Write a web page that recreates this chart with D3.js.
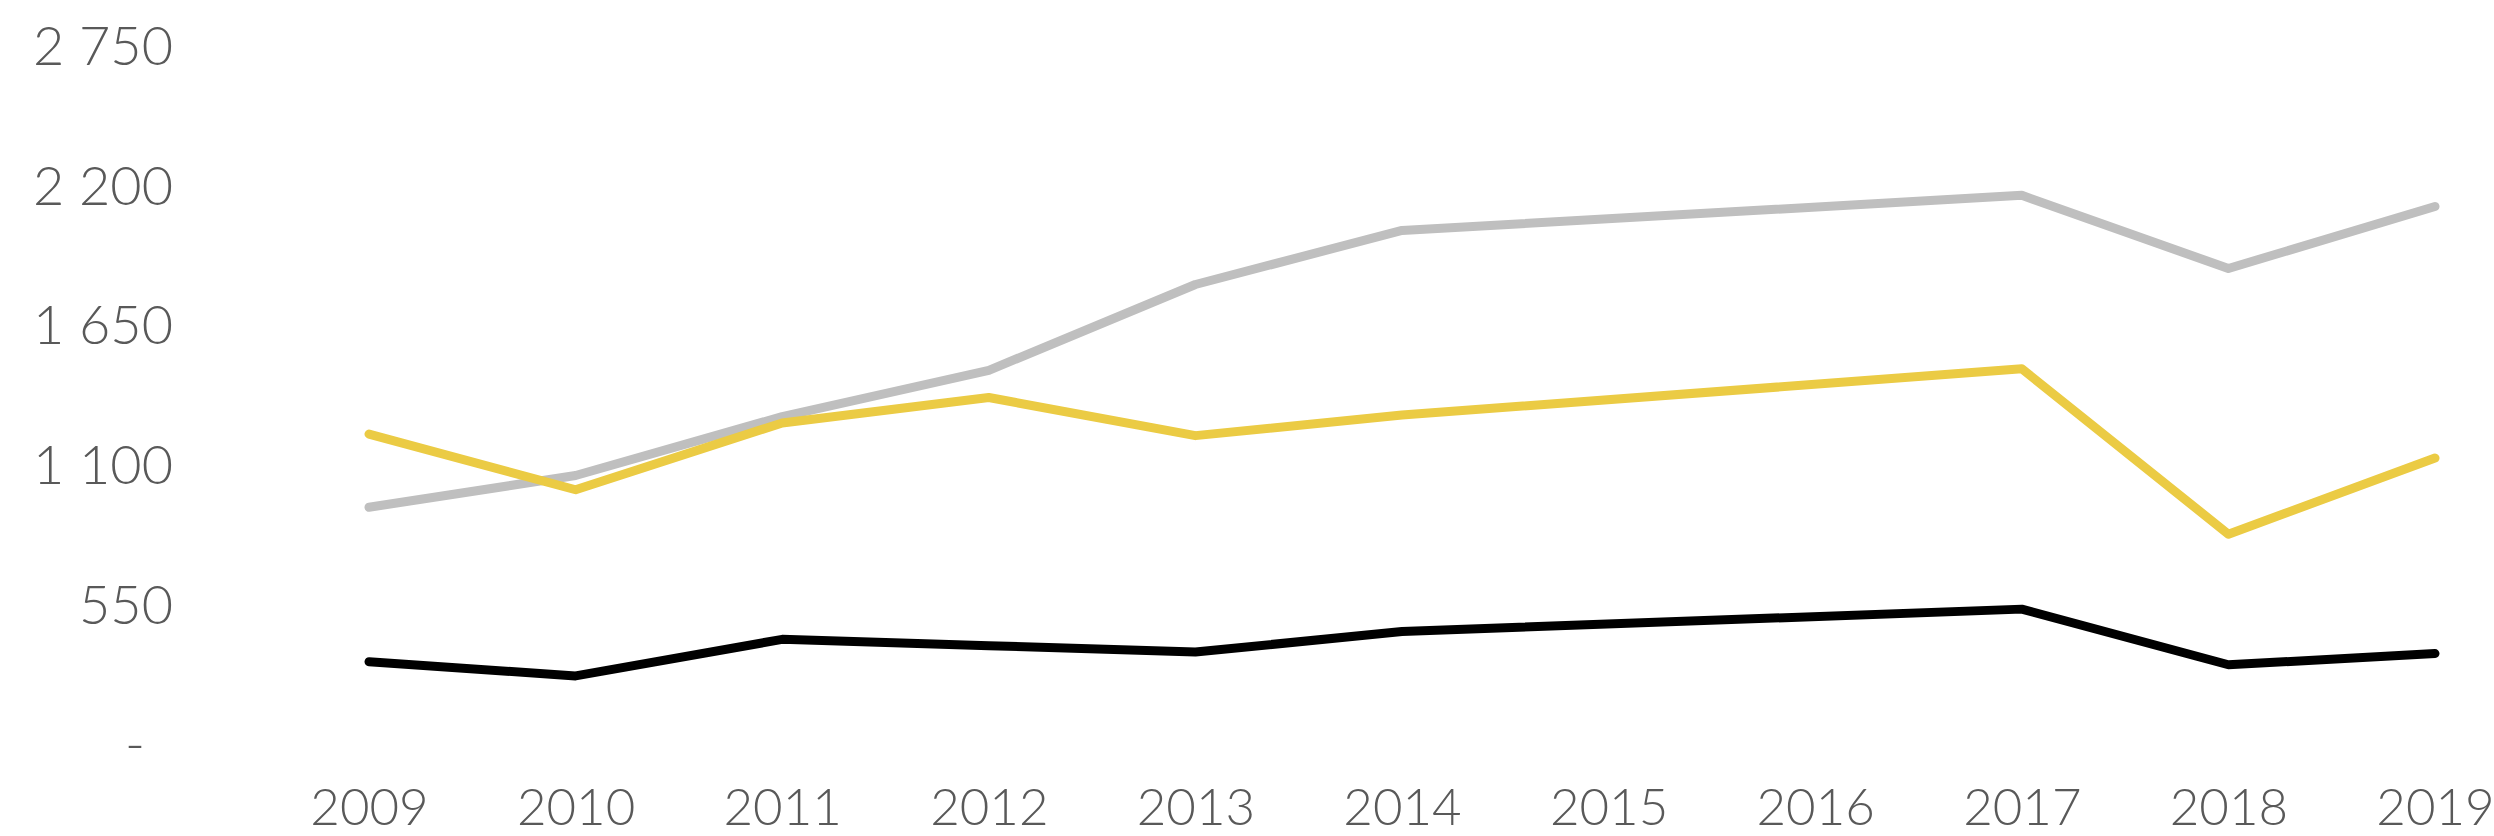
<!DOCTYPE html>
<html>
<head>
<meta charset="utf-8">
<script src="https://cdn.jsdelivr.net/npm/d3@7"></script>
<style>
  body { margin: 0; background: #fff; }
  text { font-family: Lato, "Open Sans", sans-serif; font-weight: 300; fill: #595959; }
</style>
</head>
<body>
<script>
// years on the x axis
var years = [2009, 2010, 2011, 2012, 2013, 2014, 2015, 2016, 2017, 2018, 2019];
// y tick values
var yTicks = [0, 550, 1100, 1650, 2200, 2750];

// series values (null = no point that year)
var graySeries   = [932, 1057, 1289, 1471, 1809, 2022, null, null, 2160, 1872, 2116];
var yellowSeries = [1220, 1001, 1264, 1364, 1214, 1295, null, null, 1477, 826, 1126];
var blackSeries  = [324, 268, 412, 387, 362, 443, null, null, 531, 312, 356];

var colors = ["#BFBFBF", "#EBCB44", "#000000"];

var W = 2494, H = 836;
var svg = d3.select("body").append("svg")
  .attr("width", W)
  .attr("height", H);

var x = d3.scalePoint().domain(years).range([369, 2435]);
var y = d3.scaleLinear().domain([0, 2750]).range([744, 45.5]);

// y axis labels, thousands separated by a space
var fmt = function (d) {
  if (d === 0) return "-";
  return d3.format(",")(d).replace(/,/g, " ");
};

var yAxis = d3.axisLeft(y).tickValues(yTicks).tickSize(0).tickPadding(0).tickFormat(fmt);
svg.append("g")
  .attr("transform", "translate(173,0)")
  .call(yAxis)
  .call(function (g) { g.select(".domain").remove(); })
  .selectAll("text")
  .style("font-size", "54px")
  .attr("dy", "0.35em")
  .attr("dx", function (d) { return d === 0 ? -28 : 0; });

// x axis labels, baseline kept just inside the bottom edge
var xAxis = d3.axisBottom(x).tickSize(0).tickPadding(0);
svg.append("g")
  .attr("transform", "translate(0,825)")
  .call(xAxis)
  .call(function (g) { g.select(".domain").remove(); })
  .selectAll("text")
  .style("font-size", "51px")
  .attr("dy", "0em");

var line = d3.line()
  .x(function (d) { return x(d.year); })
  .y(function (d) { return y(d.value); });

[graySeries, yellowSeries, blackSeries].forEach(function (s, i) {
  var pts = years.map(function (yr, j) { return { year: yr, value: s[j] }; })
    .filter(function (d) { return d.value != null; });
  svg.append("path")
    .datum(pts)
    .attr("d", line)
    .attr("fill", "none")
    .attr("stroke", colors[i])
    .attr("stroke-width", 9)
    .attr("stroke-linecap", "round")
    .attr("stroke-linejoin", "round");
});
</script>
</body>
</html>
